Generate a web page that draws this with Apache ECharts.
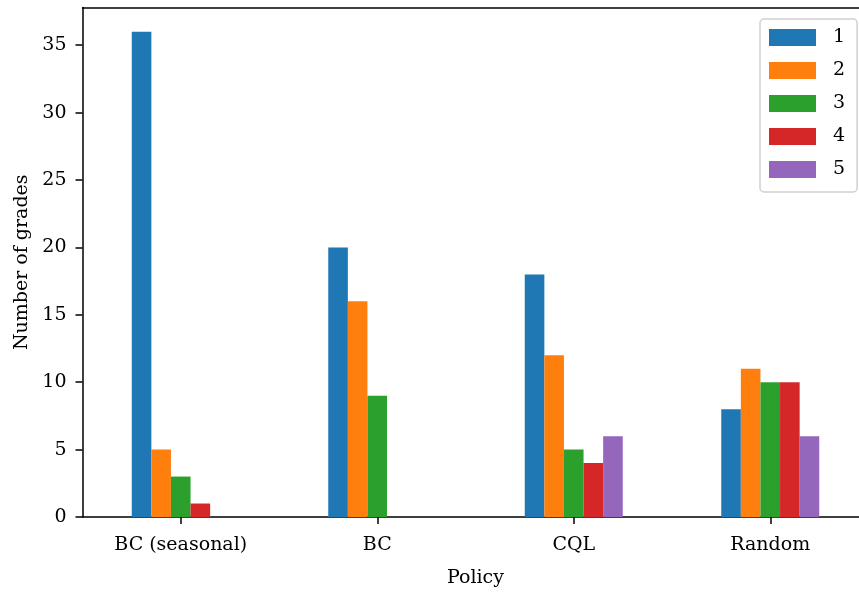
<!DOCTYPE html>
<html>
<head>
<meta charset="utf-8">
<script src="https://cdn.jsdelivr.net/npm/echarts@6/dist/echarts.min.js"></script>
<style>
  html, body { margin: 0; padding: 0; background: #fff; }
  #chart { width: 859px; height: 592px; }
</style>
</head>
<body>
<div id="chart"></div>
<script>
// Grade counts per policy, one array per grade
const policies = ['BC (seasonal)', 'BC', 'CQL', 'Random'];
const gradeNames = ['1', '2', '3', '4', '5'];
const grade1 = [36, 20, 18, 8];
const grade2 = [5, 16, 12, 11];
const grade3 = [3, 9, 5, 10];
const grade4 = [1, 0, 4, 10];
const grade5 = [0, 0, 6, 6];
const gradeColors = ['#1f77b4', '#ff7f0e', '#2ca02c', '#d62728', '#9467bd'];

const FONT = 'DejaVu Serif';
const FS = 19;
const gradeSeries = [grade1, grade2, grade3, grade4, grade5];

const chart = echarts.init(document.getElementById('chart'), null, { renderer: 'canvas' });

chart.setOption({
  animation: false,
  backgroundColor: '#ffffff',
  textStyle: { fontFamily: FONT },
  grid: {
    left: 82.5, top: 7.5, width: 786, height: 509.5,
    containLabel: false,
    outerBoundsMode: 'none'
  },
  legend: {
    orient: 'vertical',
    left: 760,
    top: 19,
    padding: [9, 12, 13, 9],
    itemWidth: 47,
    itemHeight: 17,
    itemGap: 14,
    icon: 'rect',
    backgroundColor: 'rgba(255,255,255,0.8)',
    borderColor: '#d0d0d0',
    borderWidth: 1.5,
    borderRadius: 4,
    textStyle: { fontFamily: FONT, fontSize: FS, color: '#000', lineHeight: 17, padding: [0, 0, 0, 12] },
    data: gradeNames
  },
  xAxis: [
    {
      type: 'category',
      data: policies,
      boundaryGap: true,
      position: 'bottom',
      name: 'Policy',
      nameLocation: 'middle',
      nameGap: 52,
      nameTextStyle: { fontFamily: FONT, fontSize: FS, color: '#000' },
      axisLine: { show: true, lineStyle: { color: '#000', width: 1.5 } },
      axisTick: { show: true, alignWithLabel: true, length: 7, lineStyle: { color: '#000', width: 1.5 } },
      axisLabel: { fontFamily: FONT, fontSize: FS, color: '#000', margin: 19 },
      splitLine: { show: false }
    },
    {
      type: 'category',
      data: policies,
      position: 'top',
      axisLine: { show: true, lineStyle: { color: '#000', width: 1.5 } },
      axisTick: { show: false },
      axisLabel: { show: false },
      splitLine: { show: false }
    }
  ],
  yAxis: {
    type: 'value',
    min: 0,
    max: 37.8,
    interval: 5,
    name: 'Number of grades',
    nameLocation: 'middle',
    nameGap: 51,
    nameRotate: 90,
    nameTextStyle: { fontFamily: FONT, fontSize: FS, color: '#000' },
    axisLine: { show: true, lineStyle: { color: '#000', width: 1.5 } },
    axisTick: { show: true, length: 7, lineStyle: { color: '#000', width: 1.5 } },
    axisLabel: { fontFamily: FONT, fontSize: FS, color: '#000', margin: 16, showMaxLabel: false },
    splitLine: { show: false }
  },
  series: gradeSeries.map((vals, i) => ({
    name: gradeNames[i],
    type: 'bar',
    xAxisIndex: 0,
    data: vals,
    barWidth: 19.6,
    barGap: '0%',
    itemStyle: { color: gradeColors[i] }
  }))
});
</script>
</body>
</html>
